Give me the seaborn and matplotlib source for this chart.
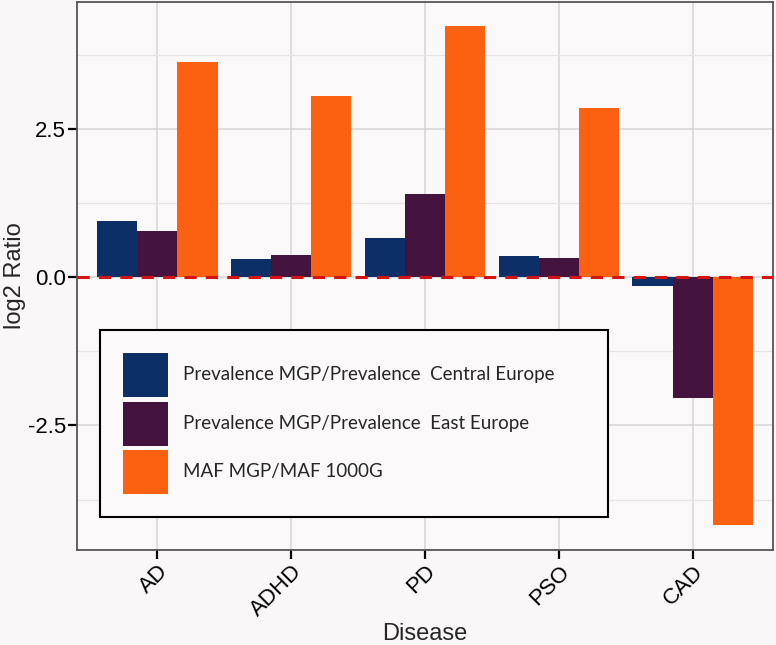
import pandas as pd
import seaborn as sns
import matplotlib.pyplot as plt
from matplotlib.legend_handler import HandlerPatch

# Data
diseases = ["AD", "ADHD", "PD", "PSO", "CAD"]
series_names = [
    "Prevalence MGP/Prevalence  Central Europe",
    "Prevalence MGP/Prevalence  East Europe",
    "MAF MGP/MAF 1000G",
]
central_europe = [0.95, 0.31, 0.66, 0.35, -0.15]
east_europe = [0.78, 0.375, 1.41, 0.33, -2.03]
maf_1000g = [3.63, 3.05, 4.23, 2.85, -4.18]
colors = ["#0b2f66", "#45143e", "#fc6112"]

df = pd.DataFrame({
    "Disease": diseases * 3,
    "ratio": central_europe + east_europe + maf_1000g,
    "series": [s for s in series_names for _ in diseases],
})

sns.set_style("whitegrid")
plt.rcParams["font.family"] = ["Liberation Sans", "DejaVu Sans"]

fig = plt.figure(figsize=(7.76, 6.45), dpi=100)
fig.patch.set_facecolor("#f9f7f8")
ax = fig.add_axes([0.0992, 0.1473, 0.8969, 0.8496])
ax.set_facecolor("#faf8f9")

sns.barplot(data=df, x="Disease", y="ratio", hue="series", order=diseases,
            hue_order=series_names, palette=colors, width=0.9, saturation=1,
            linewidth=0, edgecolor="none", ax=ax, zorder=2)

# red dashed reference line
ax.axhline(0, color="#d41414", linestyle=(0, (4, 3)), linewidth=2.2, zorder=5)

ax.set_xlim(-0.6, 4.6)
ax.set_ylim(-4.6, 4.64)
ax.set_yticks([-2.5, 0, 2.5])
ax.set_yticklabels(["-2.5", "0.0", "2.5"])
ax.set_yticks([-3.75, -1.25, 1.25, 3.75], minor=True)

ax.grid(True, which="major", color="#d9d7d8", linewidth=1.2)
ax.grid(True, which="minor", axis="y", color="#e6e4e5", linewidth=0.9)
ax.set_axisbelow(True)

for sp in ax.spines.values():
    sp.set_color("#555555")
    sp.set_linewidth(1.3)

ax.tick_params(axis="both", which="major", direction="out", length=6.5, width=1.6,
               color="black", labelsize=16, labelcolor="black", pad=1.5,
               left=True, bottom=True)
ax.tick_params(axis="y", which="minor", length=0)
plt.setp(ax.get_xticklabels(), rotation=45, ha="right", rotation_mode="anchor")

ax.set_xlabel("Disease", fontsize=17)
ax.set_ylabel("log2 Ratio", fontsize=17)
ax.yaxis.set_label_coords(-0.073, 0.5)
ax.xaxis.set_label_coords(0.5, -0.134)

# big square swatches filling each legend row, small gap between rows
handles, labels = ax.get_legend_handles_labels()
leg = ax.legend(handles, labels, loc="lower left",
                bbox_to_anchor=(0.033, 0.060, 0.730, 0.341), mode="expand",
                borderaxespad=0, fancybox=False, frameon=True,
                prop={"family": "Lato", "size": 13.5},
                handlelength=2.4, handleheight=3.235, labelspacing=0.24,
                handletextpad=0.8, borderpad=1.23,
                handler_map={h: HandlerPatch(ypad=0) for h in handles})
leg.get_frame().set_edgecolor("black")
leg.get_frame().set_linewidth(1.5)
leg.get_frame().set_facecolor("#fbf9fa")
leg.get_frame().set_alpha(1)
leg.set_zorder(6)

fig.savefig("out.png", dpi=100, facecolor=fig.get_facecolor())
